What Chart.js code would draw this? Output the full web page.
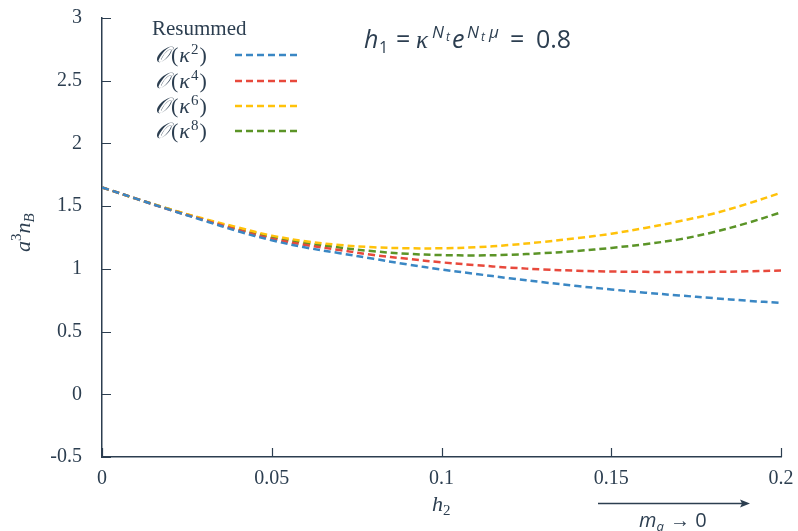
<!DOCTYPE html>
<html>
<head>
<meta charset="utf-8">
<script src="https://cdn.jsdelivr.net/npm/chart.js@4.4.1/dist/chart.umd.min.js"></script>
<style>
  html, body { margin: 0; padding: 0; background: #fff; }
  #wrap { width: 798px; height: 531px; }
</style>
</head>
<body>
<div id="wrap"><canvas id="chart" width="798" height="531"></canvas></div>
<script>
// h2 grid and the four series
const h2Values = [0, 0.01, 0.02, 0.03, 0.04, 0.05, 0.06, 0.07, 0.08, 0.09, 0.10,
                  0.11, 0.12, 0.13, 0.14, 0.15, 0.16, 0.17, 0.18, 0.19, 0.20];
const kappa2 = [1.65, 1.56, 1.47, 1.385, 1.30, 1.228, 1.17, 1.125, 1.08, 1.035, 0.995,
                0.96, 0.925, 0.893, 0.863, 0.836, 0.81, 0.788, 0.767, 0.746, 0.728];
const kappa4 = [1.65, 1.56, 1.47, 1.39, 1.31, 1.24, 1.19, 1.15, 1.11, 1.08, 1.052,
                1.03, 1.01, 0.995, 0.985, 0.979, 0.976, 0.975, 0.976, 0.98, 0.986];
const kappa6 = [1.65, 1.56, 1.475, 1.40, 1.33, 1.265, 1.22, 1.19, 1.172, 1.164, 1.164,
                1.172, 1.19, 1.215, 1.245, 1.28, 1.326, 1.379, 1.44, 1.518, 1.607];
const kappa8 = [1.65, 1.56, 1.475, 1.395, 1.32, 1.255, 1.205, 1.17, 1.14, 1.12, 1.11,
                1.107, 1.112, 1.125, 1.143, 1.167, 1.197, 1.235, 1.292, 1.365, 1.45];

const seriesNames = ['2', '4', '6', '8'];
const seriesColors = ['#3a87c4', '#e8493c', '#ffc20a', '#5b9427'];
const xTicks = [0, 0.05, 0.1, 0.15, 0.2];
const yTicks = [-0.5, 0, 0.5, 1, 1.5, 2, 2.5, 3];

const ink = '#2c3e50';
const serif = '"Liberation Serif", "DejaVu Serif", serif';
const sans = '"Open Sans", "Noto Sans", sans-serif';

function toPoints(ys) {
    return h2Values.map((x, i) => ({ x: x, y: ys[i] }));
}

function makeDataset(ys, i) {
    return {
        label: 'O(κ^' + seriesNames[i] + ')',
        data: toPoints(ys),
        borderColor: seriesColors[i],
        backgroundColor: seriesColors[i],
        borderWidth: 2.5,
        borderDash: [7, 4],
        pointRadius: 0,
        tension: 0.35,
        fill: false
    };
}

// draws pieces of text one after another: [text, font, dy, extra gap]
function drawRuns(ctx, runs, x, y) {
    runs.forEach(r => {
        ctx.font = r[1];
        ctx.fillText(r[0], x, y + (r[2] || 0));
        x += ctx.measureText(r[0]).width + (r[3] || 0);
    });
    return x;
}

// pieces of text at fixed x: [text, font, x, y]
function drawPlaced(ctx, runs) {
    runs.forEach(r => {
        ctx.font = r[1];
        ctx.fillText(r[0], r[2], r[3]);
    });
}

const decorations = {
    id: 'decorations',
    afterDraw(chart) {
        const ctx = chart.ctx;
        const xs = chart.scales.x;
        const ys = chart.scales.y;
        const area = chart.chartArea;
        ctx.save();

        // inward tick marks
        ctx.strokeStyle = ink;
        ctx.lineWidth = 1.2;
        ctx.beginPath();
        yTicks.forEach(v => {
            const py = Math.round(ys.getPixelForValue(v)) + 0.5;
            ctx.moveTo(area.left, py);
            ctx.lineTo(area.left + 9, py);
        });
        xTicks.forEach(v => {
            const px = Math.round(xs.getPixelForValue(v)) + 0.5;
            ctx.moveTo(px, area.bottom);
            ctx.lineTo(px, area.bottom - 9);
        });
        ctx.stroke();

        ctx.fillStyle = ink;
        ctx.textBaseline = 'alphabetic';
        ctx.textAlign = 'left';

        // title
        drawPlaced(ctx, [
            ['h', 'italic 25px ' + sans, 364, 48],
            ['1', '16px ' + sans, 379, 53],
            ['=', '25px ' + sans, 396, 48],
            ['κ', 'italic 25px ' + serif, 416, 48],
            ['N', 'italic 17px ' + sans, 432, 38],
            ['t', 'italic 12px ' + sans, 446, 41],
            ['e', 'italic 25px ' + sans, 452, 48],
            ['N', 'italic 17px ' + sans, 467, 38],
            ['t', 'italic 12px ' + sans, 481, 41],
            ['μ', 'italic 17px ' + sans, 489, 38],
            ['=', '25px ' + sans, 510, 48],
            ['0.8', '25px ' + sans, 536, 48]
        ]);

        // legend
        ctx.font = '21px ' + serif;
        ctx.fillText('Resummed', 152, 35);
        const rowY = [55, 81, 106, 131];
        chart.data.datasets.forEach((ds, i) => {
            const y = rowY[i];
            drawRuns(ctx, [
                ['𝒪', 'italic 22px ' + serif, 0, 2],
                ['(', '22px ' + serif, 0, 1],
                ['κ', 'italic 22px ' + serif, 0, 1],
                [seriesNames[i], '15px ' + serif, -8, 1],
                [')', '22px ' + serif, 0]
            ], 155, y + 7);
            ctx.strokeStyle = ds.borderColor;
            ctx.lineWidth = 2.5;
            ctx.setLineDash([7, 4]);
            ctx.beginPath();
            ctx.moveTo(235, y);
            ctx.lineTo(297, y);
            ctx.stroke();
            ctx.setLineDash([]);
        });

        // x axis title
        drawRuns(ctx, [
            ['h', 'italic 22px ' + serif, 0],
            ['2', '15px ' + serif, 4]
        ], 432, 511);

        // y axis title (rotated)
        ctx.save();
        ctx.translate(30, 252);
        ctx.rotate(-Math.PI / 2);
        drawRuns(ctx, [
            ['a', 'italic 22px ' + serif, 0],
            ['3', '15px ' + serif, -9],
            ['n', 'italic 22px ' + serif, 0],
            ['B', 'italic 15px ' + serif, 4]
        ], 0, 0);
        ctx.restore();

        // arrow m_q -> 0
        ctx.strokeStyle = ink;
        ctx.lineWidth = 1.3;
        ctx.beginPath();
        ctx.moveTo(598, 503.5);
        ctx.lineTo(746, 503.5);
        ctx.stroke();
        ctx.beginPath();
        ctx.moveTo(750, 503.5);
        ctx.lineTo(740, 499.5);
        ctx.lineTo(742, 503.5);
        ctx.lineTo(740, 507.5);
        ctx.closePath();
        ctx.fill();
        drawRuns(ctx, [
            ['m', 'italic 20px ' + sans, 0],
            ['q', 'italic 13px ' + sans, 4, 6],
            ['→ 0', '20px ' + sans, 0]
        ], 639, 527);

        ctx.restore();
    }
};

new Chart(document.getElementById('chart'), {
    type: 'line',
    data: {
        datasets: [
            makeDataset(kappa2, 0),
            makeDataset(kappa4, 1),
            makeDataset(kappa6, 2),
            makeDataset(kappa8, 3)
        ]
    },
    options: {
        responsive: false,
        animation: false,
        layout: { padding: { top: 18, right: 17, left: 0, bottom: 0 } },
        plugins: {
            legend: { display: false },
            tooltip: { enabled: false }
        },
        scales: {
            x: {
                type: 'linear',
                min: 0,
                max: 0.2,
                afterBuildTicks: scale => { scale.ticks = xTicks.map(v => ({ value: v })); },
                afterFit: scale => {
                    scale.height = 74;
                    scale.paddingLeft = 0;
                    scale.paddingRight = 0;
                },
                grid: { display: true, drawOnChartArea: false, drawTicks: false },
                border: { display: true, color: ink, width: 1.5 },
                ticks: {
                    padding: 10,
                    color: ink,
                    font: { family: serif, size: 20 },
                    callback: v => String(parseFloat(v.toFixed(2)))
                }
            },
            y: {
                type: 'linear',
                min: -0.5,
                max: 3,
                afterBuildTicks: scale => { scale.ticks = yTicks.map(v => ({ value: v })); },
                afterFit: scale => {
                    scale.width = 102;
                    scale.paddingTop = 0;
                    scale.paddingBottom = 0;
                },
                grid: { display: true, drawOnChartArea: false, drawTicks: false },
                border: { display: true, color: ink, width: 1.5 },
                ticks: {
                    padding: 20,
                    color: ink,
                    font: { family: serif, size: 20 },
                    callback: v => String(parseFloat(v.toFixed(2)))
                }
            }
        }
    },
    plugins: [decorations]
});
</script>
</body>
</html>
